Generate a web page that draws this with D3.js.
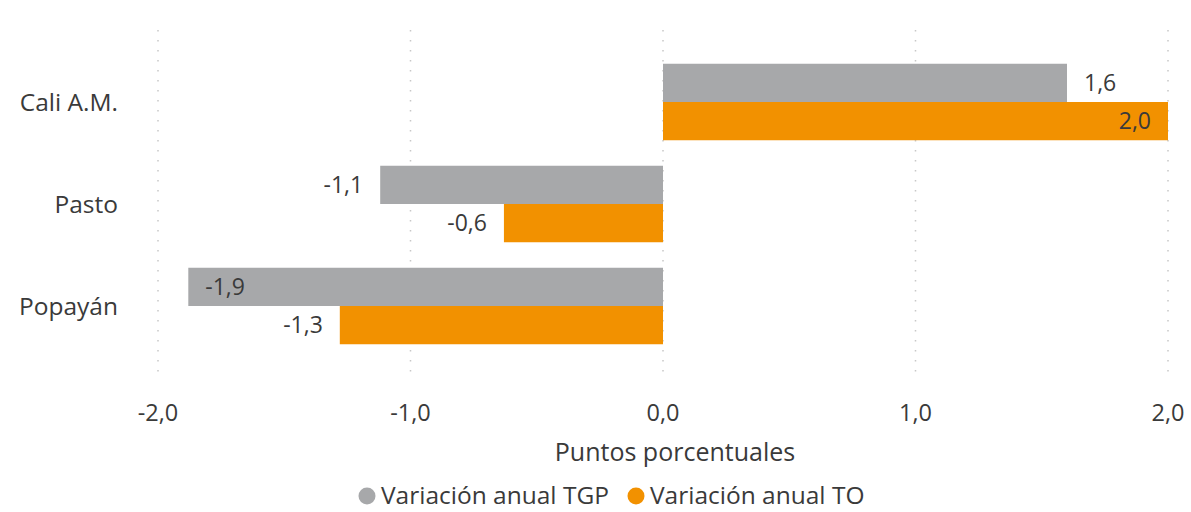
<!DOCTYPE html>
<html>
<head>
<meta charset="utf-8">
<script src="https://cdnjs.cloudflare.com/ajax/libs/d3/7.8.5/d3.min.js"></script>
<style>
  body { margin: 0; background: #fff; }
  text { font-family: "Open Sans", "Noto Sans", sans-serif; fill: #3a3a3a; }
</style>
</head>
<body>
<svg id="chart" width="1191" height="512"></svg>
<script>
// data
var cities = ["Cali A.M.", "Pasto", "Popayán"];
var seriesNames = ["Variación anual TGP", "Variación anual TO"];
var tgp = [1.60, -1.12, -1.88];
var to = [2.00, -0.63, -1.28];
var xTicks = [-2, -1, 0, 1, 2];
var colors = ["#a7a8aa", "#f29100"];

var svg = d3.select("#chart");
var margin = { left: 158, right: 23, top: 51, bottom: 155 };
var width = 1191, height = 512;

var x = d3.scaleLinear()
    .domain([-2, 2])
    .range([margin.left, width - margin.right]);

var y = d3.scaleBand()
    .domain(cities)
    .range([margin.top, height - margin.bottom])
    .paddingInner(0.25)
    .paddingOuter(0.125);

var ySub = d3.scaleBand()
    .domain([0, 1])
    .range([0, y.bandwidth()]);

var fmt = function(v) { return d3.format(".1f")(v).replace(".", ",").replace("−", "-"); };

// dotted gridlines
svg.append("g").selectAll("line")
    .data(xTicks)
    .enter().append("line")
    .attr("x1", function(d) { return x(d); })
    .attr("x2", function(d) { return x(d); })
    .attr("y1", 30)
    .attr("y2", 372)
    .attr("stroke", "#c8c8c8")
    .attr("stroke-width", 1.5)
    .attr("stroke-dasharray", "1.5,8.5");

// tick labels
svg.append("g").selectAll("text")
    .data(xTicks)
    .enter().append("text")
    .attr("x", function(d) { return x(d); })
    .attr("y", 421)
    .attr("text-anchor", "middle")
    .style("font-size", "23.5px")
    .text(function(d) { return fmt(d); });

// axis title
svg.append("text")
    .attr("x", 675)
    .attr("y", 461)
    .attr("text-anchor", "middle")
    .style("font-size", "25px")
    .text("Puntos porcentuales");

// category labels
svg.append("g").selectAll("text")
    .data(cities)
    .enter().append("text")
    .attr("x", 118)
    .attr("y", function(d) { return y(d) + y.bandwidth() / 2; })
    .attr("dy", "0.35em")
    .attr("text-anchor", "end")
    .style("font-size", "24.5px")
    .text(function(d) { return d; });

// bars
var rows = [];
cities.forEach(function(c, i) {
    rows.push({ city: c, s: 0, v: tgp[i] });
    rows.push({ city: c, s: 1, v: to[i] });
});

svg.append("g").selectAll("rect")
    .data(rows)
    .enter().append("rect")
    .attr("x", function(d) { return Math.min(x(0), x(d.v)); })
    .attr("y", function(d) { return y(d.city) + ySub(d.s); })
    .attr("width", function(d) { return Math.abs(x(d.v) - x(0)); })
    .attr("height", ySub.bandwidth())
    .attr("fill", function(d) { return colors[d.s]; });

// data labels: outside end if room, else inside end
var labelW = 48, pad = 17;
svg.append("g").selectAll("text")
    .data(rows)
    .enter().append("text")
    .attr("y", function(d) { return y(d.city) + ySub(d.s) + ySub.bandwidth() / 2; })
    .attr("dy", "0.35em")
    .style("font-size", "23px")
    .each(function(d) {
        var end = x(d.v);
        var t = d3.select(this);
        if (d.v >= 0) {
            if (x.range()[1] - end >= labelW + pad) {
                t.attr("x", end + pad).attr("text-anchor", "start");
            } else {
                t.attr("x", end - pad).attr("text-anchor", "end");
            }
        } else {
            if (end - x.range()[0] >= labelW + pad) {
                t.attr("x", end - pad).attr("text-anchor", "end");
            } else {
                t.attr("x", end + 17).attr("text-anchor", "start");
            }
        }
    })
    .text(function(d) { return fmt(d.v); });

// legend
var legend = svg.append("g");
var lx = [367, 636];
seriesNames.forEach(function(n, i) {
    legend.append("circle")
        .attr("cx", lx[i])
        .attr("cy", 496)
        .attr("r", 8.5)
        .attr("fill", colors[i]);
    legend.append("text")
        .attr("x", lx[i] + 14)
        .attr("y", 504)
        .style("font-size", "24.5px")
        .text(n);
});
</script>
</body>
</html>
